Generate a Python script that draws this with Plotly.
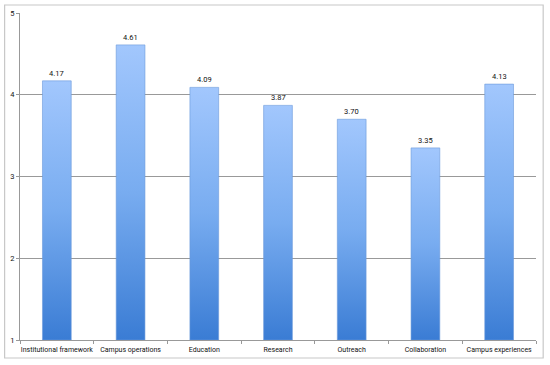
import plotly.graph_objects as go

categories = ["Institutional framework", "Campus operations", "Education", "Research",
              "Outreach", "Collaboration", "Campus experiences"]
values = [4.17, 4.61, 4.09, 3.87, 3.70, 3.35, 4.13]
value_labels = ["4.17", "4.61", "4.09", "3.87", "3.70", "3.35", "4.13"]
y_ticks = [1, 2, 3, 4, 5]

BASE = 1
HALF = 0.195
FONT = "Roboto, Liberation Sans, Arial"

fig = go.Figure()
for i, v in enumerate(values):
    fig.add_trace(go.Scatter(
        x=[i - HALF, i + HALF, i + HALF, i - HALF, i - HALF],
        y=[BASE, BASE, v, v, BASE],
        mode="lines", fill="toself",
        line=dict(color="#6a98da", width=0.6),
        fillgradient=dict(type="vertical",
                          colorscale=[[0, "#3a7cd4"], [0.5, "#78acf0"], [1, "#a2c7fd"]]),
        hoverinfo="skip", showlegend=False,
    ))

for i, (v, lab) in enumerate(zip(values, value_labels)):
    fig.add_annotation(x=i, y=v, text=lab, showarrow=False, yanchor="bottom", yshift=1,
                       font=dict(family=FONT, size=7.5, color="#111"))

fig.update_layout(
    width=550, height=365,
    margin=dict(l=20, r=14, t=13, b=25, autoexpand=False),
    paper_bgcolor="white", plot_bgcolor="white",
    xaxis=dict(
        range=[-0.5, len(categories) - 0.5],
        tickmode="array", tickvals=list(range(len(categories))), ticktext=categories,
        tickangle=0, automargin=False, ticklabelstandoff=3,
        showgrid=False, zeroline=False,
        showline=True, linecolor="#999", linewidth=1,
        ticks="", tickfont=dict(family=FONT, size=7, color="#111"),
        minor=dict(tickmode="array", tickvals=[i + 0.5 for i in range(-1, len(categories))],
                   ticks="outside", ticklen=3, tickcolor="#999"),
    ),
    yaxis=dict(
        range=[1, 5], tickmode="array", tickvals=y_ticks, automargin=False,
        showgrid=True, gridcolor="#999", gridwidth=1,
        zeroline=False, showline=True, linecolor="#999", linewidth=1,
        ticks="outside", ticklen=3, tickcolor="#999",
        tickfont=dict(family=FONT, size=7.5, color="#111"),
    ),
    shapes=[dict(type="rect", xref="paper", yref="paper",
                 x0=-15 / 503, x1=1 + 7 / 503, y0=-18 / 327, y1=1 + 8 / 327,
                 line=dict(color="#c8c8c8", width=1.2), fillcolor="rgba(0,0,0,0)")],
)

fig.write_html("out.html", config={"displayModeBar": False},
               post_script="document.body.style.margin='0';")
